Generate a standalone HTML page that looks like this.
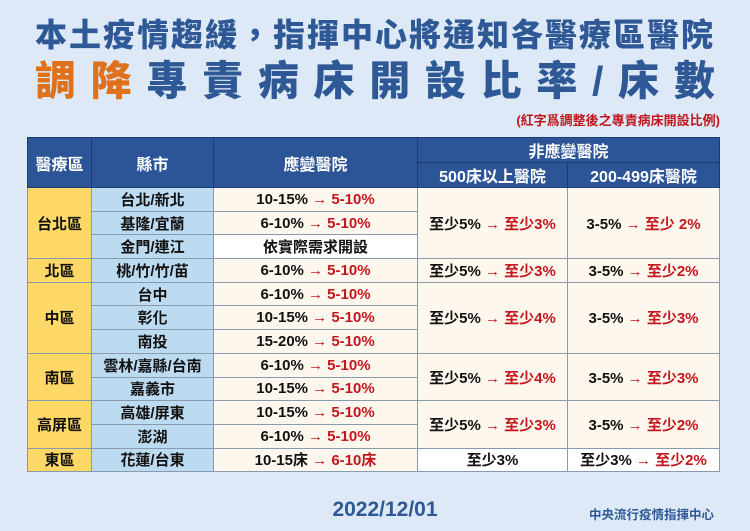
<!DOCTYPE html>
<html><head><meta charset="utf-8"><style>
*{margin:0;padding:0;box-sizing:border-box}
body{width:750px;height:531px;background:#dde9f6;font-family:"Liberation Sans","Noto Sans CJK TC",sans-serif;position:relative;overflow:hidden}
.t1{position:absolute;left:0;width:750px;top:15px;text-align:center;font-size:32px;font-weight:900;color:#2f5996;letter-spacing:2px;line-height:40px}
.t2{position:absolute;left:35px;width:680px;top:57px;display:flex;justify-content:space-between;font-size:41px;font-weight:900;color:#2f5996;line-height:48px}
.t2 .o{color:#e0711b}
.note{position:absolute;right:30px;top:110px;font-size:13px;font-weight:bold;color:#c0161c}
table{position:absolute;left:27px;top:137px;border-collapse:collapse;width:692px;table-layout:fixed}
td,th{border:1px solid #8a9aae;text-align:center;font-size:15px;font-weight:bold;color:#111;padding:0;white-space:nowrap}
th{background:#2c5597;color:#fff;font-size:16px;border-color:#1d3c70}
td{height:23.7px;background:#fdf7ee}
.y{background:#fdd866}
.b{background:#bcdaf0}
.w{background:#fff}
.r{color:#c4161c}
.a{color:#c4161c;font-size:16px}
.date{position:absolute;left:0;width:770px;top:498px;text-align:center;font-size:21px;font-weight:bold;color:#2f5996}
.org{position:absolute;right:36px;top:504px;font-size:12.5px;font-weight:bold;color:#2f5996}
</style></head><body>
<div class="t1">本土疫情趨緩，指揮中心將通知各醫療區醫院</div>
<div class="t2"><span class="o">調</span><span class="o">降</span><span>專</span><span>責</span><span>病</span><span>床</span><span>開</span><span>設</span><span>比</span><span>率</span><span>/</span><span>床</span><span>數</span></div>
<div class="note">(紅字爲調整後之專責病床開設比例)</div>
<table>
<colgroup><col style="width:64px"><col style="width:122px"><col style="width:204px"><col style="width:150px"><col style="width:152px"></colgroup>
<tr style="height:25px"><th rowspan="2">醫療區</th><th rowspan="2">縣市</th><th rowspan="2">應變醫院</th><th colspan="2">非應變醫院</th></tr>
<tr style="height:23px"><th>500床以上醫院</th><th>200-499床醫院</th></tr>
<tr><td class="y" rowspan="3">台北區</td><td class="b">台北/新北</td><td>10-15% <span class="r">→ 5-10%</span></td><td rowspan="3">至少5% <span class="r">→ 至少3%</span></td><td rowspan="3">3-5% <span class="r">→ 至少 2%</span></td></tr>
<tr><td class="b">基隆/宜蘭</td><td>6-10% <span class="r">→ 5-10%</span></td></tr>
<tr><td class="b">金門/連江</td><td class="w">依實際需求開設</td></tr>
<tr><td class="y">北區</td><td class="b">桃/竹/竹/苗</td><td>6-10% <span class="r">→ 5-10%</span></td><td>至少5% <span class="r">→ 至少3%</span></td><td>3-5% <span class="r">→ 至少2%</span></td></tr>
<tr><td class="y" rowspan="3">中區</td><td class="b">台中</td><td>6-10% <span class="r">→ 5-10%</span></td><td rowspan="3">至少5% <span class="r">→ 至少4%</span></td><td rowspan="3">3-5% <span class="r">→ 至少3%</span></td></tr>
<tr><td class="b">彰化</td><td>10-15% <span class="r">→ 5-10%</span></td></tr>
<tr><td class="b">南投</td><td>15-20% <span class="r">→ 5-10%</span></td></tr>
<tr><td class="y" rowspan="2">南區</td><td class="b">雲林/嘉縣/台南</td><td>6-10% <span class="r">→ 5-10%</span></td><td rowspan="2">至少5% <span class="r">→ 至少4%</span></td><td rowspan="2">3-5% <span class="r">→ 至少3%</span></td></tr>
<tr><td class="b">嘉義市</td><td>10-15% <span class="r">→ 5-10%</span></td></tr>
<tr><td class="y" rowspan="2">高屏區</td><td class="b">高雄/屏東</td><td>10-15% <span class="r">→ 5-10%</span></td><td rowspan="2">至少5% <span class="r">→ 至少3%</span></td><td rowspan="2">3-5% <span class="r">→ 至少2%</span></td></tr>
<tr><td class="b">澎湖</td><td>6-10% <span class="r">→ 5-10%</span></td></tr>
<tr><td class="y">東區</td><td class="b">花蓮/台東</td><td>10-15床 <span class="r">→ 6-10床</span></td><td class="w">至少3%</td><td class="w">至少3% <span class="r">→ 至少2%</span></td></tr>
</table>
<div class="date">2022/12/01</div>
<div class="org">中央流行疫情指揮中心</div>
</body></html>
